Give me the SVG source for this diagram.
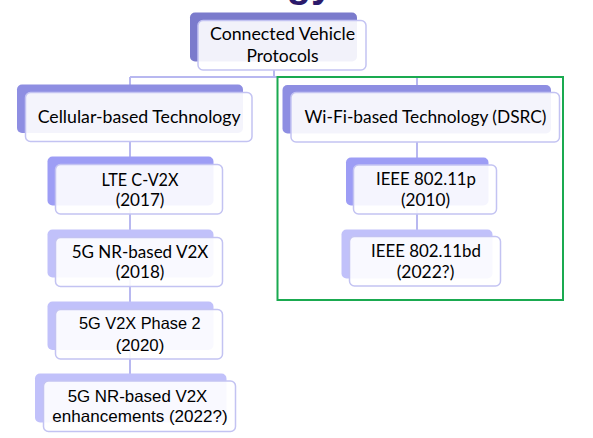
<svg xmlns="http://www.w3.org/2000/svg" width="593" height="438" viewBox="0 0 593 438">
<style>
.back1{fill:#7b7bcc}
.back2{fill:#8e8ee2}
.back3{fill:#9d9df5}
.back4{fill:#c1c1fa}
.front{fill:#ffffff;fill-opacity:0.9;stroke:#c3c3f2;stroke-width:1.5}
.t{font-family:Lato,"Open Sans","Liberation Sans",sans-serif;font-size:16.8px;fill:#000000;text-anchor:middle}
.a{font-family:"Liberation Sans",Arial,sans-serif;font-size:16.5px;fill:#000000;text-anchor:middle}
.conn{fill:none;stroke:#b8b8f0;stroke-width:2}
</style>
<rect width="593" height="438" fill="#ffffff"/>
<text x="310" y="-3" font-family="'Liberation Sans',sans-serif" font-size="40" font-weight="bold" fill="#2b1a6b" text-anchor="middle">gy</text>
<g id="connectors">
<path class="conn" d="M274,70 V77 M130,77 H417 M130,77 V92 M417,77 V92 M130,142 V382 M417,142 V237"/>
</g>
<rect x="277.5" y="77" width="285.5" height="223" fill="none" stroke="#1aaa50" stroke-width="2"/>
<g id="n-root">
<rect class="back1" x="190" y="12.5" width="167" height="49" rx="5"/>
<rect class="front" x="198" y="20.5" width="168" height="49.5" rx="5"/>
<text class="t" x="282.5" y="40" textLength="145" lengthAdjust="spacingAndGlyphs">Connected Vehicle</text>
<text class="t" x="282.5" y="61.5" textLength="72" lengthAdjust="spacingAndGlyphs">Protocols</text>
</g>
<g id="n-cellular">
<rect class="back2" x="17" y="84.5" width="226" height="48.5" rx="5"/>
<rect class="front" x="25.5" y="92.5" width="226.5" height="49" rx="5"/>
<text class="t" x="139.2" y="123.3" textLength="203" lengthAdjust="spacingAndGlyphs">Cellular-based Technology</text>
</g>
<g id="n-wifi">
<rect class="back2" x="282.5" y="85" width="268.5" height="48.5" rx="5"/>
<rect class="front" x="291" y="92.5" width="268.5" height="49.5" rx="5"/>
<text class="t" x="425.5" y="123.3" textLength="242" lengthAdjust="spacingAndGlyphs">Wi-Fi-based Technology (DSRC)</text>
</g>
<g id="n-lte">
<rect class="back3" x="47.5" y="156.5" width="166" height="49" rx="5"/>
<rect class="front" x="55.5" y="164.5" width="167" height="49.5" rx="5"/>
<text class="t" x="140" y="185.7" textLength="77" lengthAdjust="spacingAndGlyphs">LTE C-V2X</text>
<text class="t" x="140" y="205.7" textLength="48.7" lengthAdjust="spacingAndGlyphs">(2017)</text>
</g>
<g id="n-5gnr">
<rect class="back4" x="47.5" y="229.5" width="166" height="48" rx="5"/>
<rect class="front" x="55.5" y="237.5" width="167" height="49" rx="5"/>
<text class="t" x="140" y="257.7" textLength="136.7" lengthAdjust="spacingAndGlyphs">5G NR-based V2X</text>
<text class="t" x="140" y="277.7" textLength="48.7" lengthAdjust="spacingAndGlyphs">(2018)</text>
</g>
<g id="n-phase2">
<rect class="back4" x="47.5" y="301.5" width="166" height="48.5" rx="5"/>
<rect class="front" x="55.5" y="309.5" width="167" height="49.5" rx="5"/>
<text class="a" x="139.8" y="329.3" textLength="121.7" lengthAdjust="spacingAndGlyphs">5G V2X Phase 2</text>
<text class="a" x="140" y="351" textLength="48.7" lengthAdjust="spacingAndGlyphs">(2020)</text>
</g>
<g id="n-enh">
<rect class="back4" x="35" y="373.5" width="191.5" height="49" rx="5"/>
<rect class="front" x="43.5" y="381" width="192" height="50.5" rx="5"/>
<text class="a" x="137.5" y="401.7" textLength="139.7" lengthAdjust="spacingAndGlyphs">5G NR-based V2X</text>
<text class="a" x="140" y="421.7" textLength="175.3" lengthAdjust="spacingAndGlyphs">enhancements (2022?)</text>
</g>
<g id="n-11p">
<rect class="back3" x="346" y="157.5" width="142.5" height="48" rx="5"/>
<rect class="front" x="353.5" y="165" width="143" height="49" rx="5"/>
<text class="t" x="426" y="185" textLength="100" lengthAdjust="spacingAndGlyphs">IEEE 802.11p</text>
<text class="t" x="425.5" y="205.7" textLength="49" lengthAdjust="spacingAndGlyphs">(2010)</text>
</g>
<g id="n-11bd">
<rect class="back4" x="341.5" y="229.5" width="151" height="49" rx="5"/>
<rect class="front" x="349.5" y="236.5" width="151" height="49.5" rx="5"/>
<text class="t" x="426" y="256.7" textLength="110" lengthAdjust="spacingAndGlyphs">IEEE 802.11bd</text>
<text class="t" x="425.5" y="278.3" textLength="57.7" lengthAdjust="spacingAndGlyphs">(2022?)</text>
</g>
</svg>
